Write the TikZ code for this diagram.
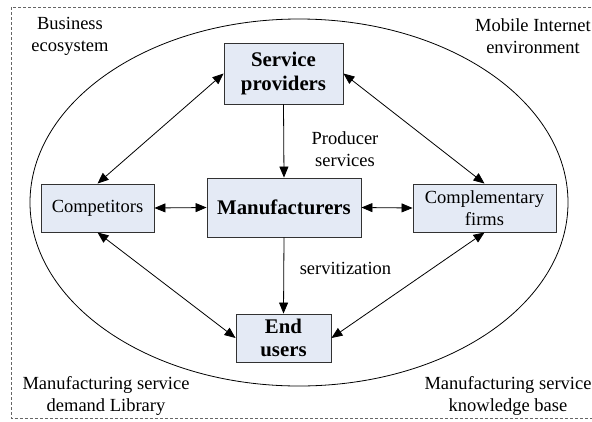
\documentclass[tikz,border=0pt]{standalone}
\usepackage{fontspec}
\setmainfont{Liberation Serif}
\usetikzlibrary{arrows.meta}
\definecolor{boxfill}{RGB}{228,234,245}
\definecolor{boxline}{RGB}{50,50,50}
\tikzset{
  ent/.style={draw=boxline, line width=0.9pt, fill=boxfill, inner sep=0pt, align=center,
    font=\fontsize{18.5}{22}\selectfont},
  entb/.style={ent, font=\fontsize{20.8}{23.5}\selectfont\bfseries},
  lbl/.style={align=center, inner sep=0pt, font=\fontsize{18.5}{22}\selectfont},
  arr/.style={line width=0.8pt, -{Triangle[length=11pt,width=9pt]}},
  darr/.style={line width=0.8pt, {Triangle[length=11pt,width=9pt]}-{Triangle[length=11pt,width=9pt]}},
}
\begin{document}
\begin{tikzpicture}[x=1pt,y=-1pt]
\useasboundingbox (0,0) rectangle (592,421);
\fill[white] (0,0) rectangle (592,421);
% dashed frame
\draw[black!60, line width=0.7pt, dash pattern=on 3pt off 2pt] (11,7) rectangle (600,418);
% ellipse
\draw[line width=0.8pt] (299,202.5) ellipse [x radius=269, y radius=183.5];
% nodes
\node[entb, minimum width=119pt, minimum height=61pt] (sp) at (283.5,73.5) {Service\\providers};
\node[entb, minimum width=154pt, minimum height=59pt] (mf) at (284,207.5) {Manufacturers};
\node[ent, minimum width=113pt, minimum height=48pt] (cp) at (97.5,208) {Competitors};
\node[ent, minimum width=143pt, minimum height=48pt] (cf) at (484.5,208) {Complementary\\firms};
\node[entb, minimum width=95pt, minimum height=48pt] (eu) at (283.5,338) {End\\users};
% labels
\node[lbl] (ps) at (345,149) {Producer\\services};
\node[lbl] (sv) at (345.5,268) {servitization};
\node[lbl] (be) at (70,36) {Business\\ecosystem};
\node[lbl] (mi) at (533,36) {Mobile Internet\\environment};
\node[lbl] (md) at (106,396) {Manufacturing service\\demand Library};
\node[lbl] (mk) at (508,396) {Manufacturing service\\knowledge base};
% connectors
\draw[arr] (sp.south) -- (mf.north);
\draw[arr] (mf.south) -- (eu.north);
\draw[darr] (cp.east) -- (mf.west);
\draw[darr] (mf.east) -- (cf.west);
\draw[darr] (sp.west) -- (cp.north);
\draw[darr] (sp.east) -- (cf.north);
\draw[darr] (cp.south) -- (eu.west);
\draw[darr] (cf.south) -- (eu.east);
\end{tikzpicture}
\end{document}
